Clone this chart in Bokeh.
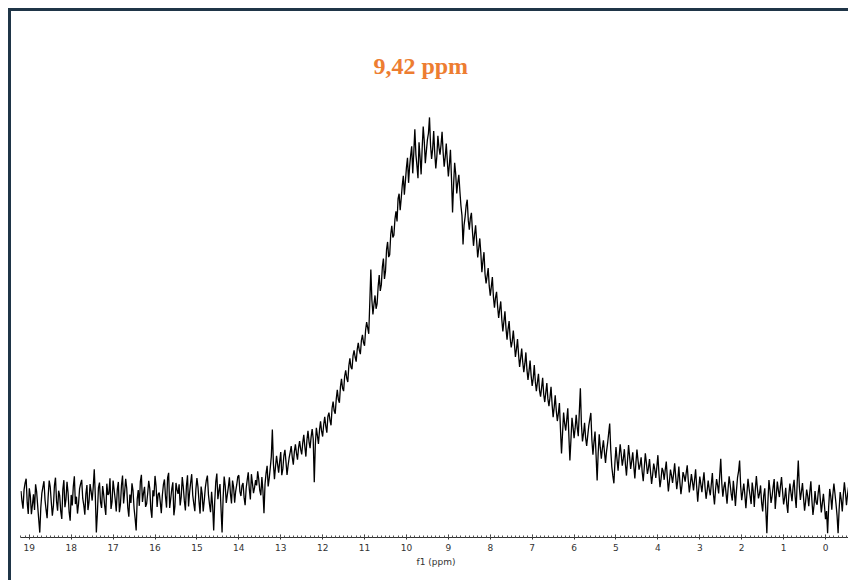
import numpy as np
from bokeh.plotting import figure
from bokeh.models import Range1d, SingleIntervalTicker, Label
from bokeh.embed import file_html
from bokeh.resources import INLINE

# 1H spectrum, intensity in arbitrary units, one point every 0.025 ppm.
# Each band holds the 40 points of one ppm, from its start value downward.
ppm_step = 0.025

band_19_2 = [1.8, -1.0, -3.2, 2.2, 4.1, 5.3, -1.5, -4.7, 2.6, 0.4, -4.8, -2.1, 0.9, -3.6, 3.7, 1.6, -2.4, -6.3, -10.0, -2.8,
             1.2, 3.0, 4.6, -0.7, -3.5, -5.9, 0.3, 4.8, 2.9, -1.4, -5.2, -2.5, 3.4, 5.6, -1.1, -3.8, 1.9, 0.5, -3.9, -6.1]
band_18_2 = [2.2, 4.9, -2.8, -0.6, 4.4, 1.3, -4.1, -6.6, 0.7, -2.3, 3.1, 6.0, -1.9, 0.2, -4.6, -1.8, 2.5, 3.9, 5.0, -0.3,
             -2.2, -4.9, 1.0, 3.5, -3.6, -1.2, 3.8, 1.7, -0.9, 2.8, 8.0, 0.6, -10.0, -4.4, 2.7, 4.2, -1.4, -3.0, 3.2, 0.8]
band_17_2 = [-2.5, -5.0, 3.9, 0.7, 1.1, 5.4, -3.3, -1.2, 4.8, 2.1, -0.6, -4.0, 2.3, 4.4, -4.2, -2.0, 3.5, 6.2, -1.7, 1.5,
             5.3, 2.6, -2.9, -5.5, 0.8, -1.6, 4.0, 1.9, -3.1, -6.0, -9.4, -0.5, 2.1, -2.4, 4.5, 6.4, -1.3, 1.2, 3.0, -2.7]
band_16_2 = [-1.8, 1.1, 4.7, 2.5, -3.4, -5.8, 2.0, 0.3, 6.1, 3.2, -2.7, 0.9, 1.4, -1.3, -4.5, 0.6, 3.6, 5.1, 0.2, -2.9,
             5.6, 7.0, -3.0, -0.4, 2.4, 4.3, -5.1, -2.6, 4.1, 2.2, 1.0, 3.7, -2.3, 0.1, 5.8, 2.9, -1.0, -3.7, 3.3, 6.3]
band_15_2 = [-2.6, 1.4, 4.2, 6.6, 0.6, -1.8, -3.9, 2.3, 5.5, 3.0, -1.2, -4.6, 3.1, 1.0, -4.0, -0.9, 2.7, 4.9, 6.2, 0.8,
             -2.0, -4.2, 1.6, -2.4, -9.4, -1.1, 4.4, 6.8, -0.5, 1.9, 3.8, -3.2, -10.0, -0.2, 5.9, 3.3, -1.6, 0.7, 2.9, 5.7]
band_14_2 = [1.0, -1.7, 4.8, 2.9, -1.5, 1.8, 3.6, 5.9, 6.3, 1.7, 0.4, 3.3, 4.1, 0.0, -2.2, 2.6, 5.0, 7.1, 2.4, -0.6,
             6.6, 4.0, 1.2, 2.8, 4.9, 3.4, 7.4, 5.1, 2.0, 0.6, 5.8, 1.9, -4.5, 3.8, 6.9, 9.0, 3.1, 5.4, 8.4, 11.6]
band_13_2 = [19.3, 9.6, 5.2, 8.7, 11.8, 9.4, 7.0, 10.2, 12.9, 6.3, 8.1, 11.9, 13.5, 10.1, 6.4, 9.0, 11.2, 12.8, 14.6, 11.4,
             9.3, 13.0, 15.1, 12.6, 10.7, 14.1, 16.0, 13.7, 12.2, 15.5, 17.8, 14.4, 11.6, 16.3, 18.9, 15.8, 14.0, 17.2, 19.4, 16.6]
band_12_2 = [4.3, 14.9, 19.8, 17.6, 15.2, 19.1, 21.6, 18.8, 17.3, 20.7, 22.9, 20.2, 18.4, 23.0, 24.1, 21.9, 20.5, 25.4, 27.2, 24.6,
             23.8, 28.0, 30.6, 27.8, 26.9, 31.5, 33.7, 31.0, 30.2, 34.4, 36.1, 33.9, 32.8, 37.3, 39.5, 37.0, 36.4, 40.2, 41.8, 39.9]
band_11_2 = [38.6, 42.0, 43.9, 41.8, 40.7, 44.6, 46.2, 44.0, 43.1, 47.5, 49.8, 48.2, 46.5, 55.3, 64.8, 56.1, 52.0, 54.9, 57.4, 53.6,
             55.1, 60.0, 63.2, 58.7, 60.4, 65.5, 67.9, 62.1, 64.3, 70.4, 72.6, 68.3, 69.0, 74.8, 77.2, 73.9, 74.5, 79.0, 81.3, 78.4]
band_10_2 = [84.9, 86.3, 81.6, 85.0, 88.7, 91.4, 86.0, 89.9, 93.8, 96.5, 89.4, 94.0, 97.2, 99.8, 92.1, 98.0, 104.6, 97.5, 94.3, 90.7,
             100.9, 96.6, 91.8, 99.3, 105.4, 101.2, 95.0, 98.4, 101.7, 103.5, 108.0, 100.1, 96.2, 99.0, 104.1, 97.8, 93.5, 96.9, 102.8, 99.5]
band_9_2 = [97.4, 100.2, 103.9, 98.1, 94.0, 96.7, 100.6, 95.5, 91.2, 94.6, 98.8, 90.4, 81.0, 88.9, 95.1, 92.0, 86.4, 89.5, 91.7, 87.0,
            82.9, 80.1, 71.9, 77.4, 79.8, 83.0, 84.6, 78.8, 76.1, 79.4, 80.9, 75.6, 71.5, 74.7, 77.3, 72.9, 68.2, 70.8, 73.6, 69.4]
band_8_2 = [64.0, 67.2, 69.7, 63.5, 60.8, 62.9, 65.2, 60.1, 57.3, 59.9, 62.6, 57.0, 53.9, 56.8, 58.4, 54.3, 51.0, 53.5, 55.7, 50.6,
            47.2, 50.0, 52.9, 48.1, 44.8, 47.9, 50.1, 45.3, 42.6, 44.4, 47.4, 43.8, 39.9, 42.1, 45.0, 40.6, 37.1, 39.5, 42.3, 38.4]
band_7_2 = [35.6, 38.0, 41.2, 36.3, 33.4, 35.9, 38.9, 34.6, 31.7, 33.8, 37.6, 32.9, 30.2, 32.7, 35.1, 30.4, 28.6, 31.2, 34.0, 29.3,
            27.1, 29.8, 32.5, 28.0, 25.9, 28.4, 31.4, 26.5, 22.8, 25.6, 29.0, 24.7, 21.7, 23.9, 26.8, 19.4, 12.5, 18.3, 24.1, 21.0]
band_6_2 = [19.0, 22.1, 25.3, 17.7, 10.5, 16.4, 22.6, 20.0, 16.8, 19.6, 23.5, 19.9, 17.4, 24.3, 31.0, 20.8, 15.9, 18.1, 21.2, 17.0,
            14.6, 17.5, 20.3, 22.2, 24.0, 16.3, 12.1, 15.8, 18.7, 11.9, 4.8, 12.6, 17.9, 14.2, 11.0, 13.9, 16.2, 12.8, 9.8, 13.1]
band_5_2 = [15.4, 18.2, 21.0, 13.5, 8.7, 6.1, 4.0, 9.9, 14.3, 10.8, 7.6, 11.7, 15.1, 12.3, 9.0, 11.0, 13.7, 9.4, 6.2, 10.5,
            14.9, 11.6, 8.1, 10.3, 12.8, 8.9, 5.4, 9.7, 13.6, 10.6, 7.9, 9.2, 11.4, 7.3, 4.6, 8.5, 12.5, 9.9, 6.7, 8.3]
band_4_2 = [10.9, 7.1, 3.8, 6.4, 9.6, 8.0, 5.5, 8.7, 12.0, 6.8, 2.9, 5.2, 8.4, 7.5, 5.0, 7.8, 10.2, 5.6, 1.7, 4.6,
            7.9, 6.2, 4.1, 6.7, 9.7, 5.9, 2.3, 4.9, 8.8, 4.3, 0.9, 3.5, 7.2, 6.1, 4.5, 6.9, 9.1, 4.8, 1.4, 3.9]
band_3_2 = [6.6, 4.4, 2.0, 5.0, 8.0, 3.1, -1.2, 2.5, 5.9, 3.7, 1.5, 4.6, 7.1, 2.8, -0.4, 1.9, 4.8, 2.3, 0.6, 3.8,
            6.9, 1.0, -2.0, 2.1, 5.2, 3.4, 1.1, 6.3, 11.0, 4.0, 0.2, 2.9, 4.4, 1.3, -1.8, 2.4, 6.0, 3.6, 0.9, -0.9]
band_2_2 = [4.7, 1.5, -2.4, 2.0, 5.6, 7.4, 10.5, 3.2, -0.8, 1.6, 3.9, 0.7, -3.1, 1.2, 5.3, 2.6, 0.4, -1.9, 4.2, 1.8,
            -2.7, 2.3, 6.1, 2.4, -0.3, 1.1, 3.4, -1.5, -4.0, 0.5, 2.6, -3.6, -10.2, -1.3, 4.9, 2.1, -1.6, 0.3, 3.0, 5.2]
band_1_2 = [-3.3, 0.6, 4.5, 2.0, 0.1, 3.2, 5.8, 1.7, -2.0, -0.1, 2.7, -1.9, -4.4, 0.8, 3.9, 1.3, -1.1, 2.9, 5.0, 0.2,
            -3.0, 4.4, 10.5, 3.1, -0.7, 1.6, 4.1, 0.0, -3.8, -1.2, 2.2, 0.4, -2.5, 1.5, 4.6, -0.8, -5.0, -2.3, 1.8, -1.4]
band_0_2 = [-2.1, 1.2, 3.6, -0.5, -4.3, -1.6, 1.0, -2.4, -6.2, -3.9, -10.2, -2.7, 2.4, 0.3, -3.5, 0.9, 3.9, 1.1, -1.8, -5.1,
            -10.2, -3.3, 1.5, -0.6, -4.0, 0.7, 4.3, 1.4, -2.2, 0.8, 3.0, 0.1, -1.0]

bands = [
    (19.2, band_19_2), (18.2, band_18_2), (17.2, band_17_2), (16.2, band_16_2), (15.2, band_15_2),
    (14.2, band_14_2), (13.2, band_13_2), (12.2, band_12_2), (11.2, band_11_2), (10.2, band_10_2),
    (9.2, band_9_2), (8.2, band_8_2), (7.2, band_7_2), (6.2, band_6_2), (5.2, band_5_2),
    (4.2, band_4_2), (3.2, band_3_2), (2.2, band_2_2), (1.2, band_1_2), (0.2, band_0_2),
]

shift = np.concatenate([start - ppm_step * np.arange(len(vals)) for start, vals in bands])
intensity = np.concatenate([np.asarray(vals, dtype=float) for _, vals in bands])

peak_ppm = 9.42
peak_label = "9,42 ppm"

p = figure(
    width=840, height=572,
    x_range=Range1d(19.21, -0.62),
    y_range=Range1d(-11.4, 138.1),
    output_backend="svg", toolbar_location=None,
    min_border_left=9, min_border_right=0, min_border_top=0, min_border_bottom=46,
)
p.styles = {
    "margin-left": "8px",
    "margin-top": "8px",
    "border-left": "3px solid #1f3547",
    "border-top": "3px solid #1f3547",
}
p.outline_line_color = None
p.background_fill_color = "white"
p.border_fill_color = "white"
p.xgrid.visible = False
p.ygrid.visible = False
p.yaxis.visible = False

p.line(shift, intensity, line_color="black", line_width=1.3)

ax = p.xaxis[0]
ax.ticker = SingleIntervalTicker(interval=1, num_minor_ticks=10)
ax.axis_line_color = "#333333"
ax.major_tick_line_color = "#333333"
ax.minor_tick_line_color = "#555555"
ax.major_tick_in = 3
ax.major_tick_out = 2
ax.minor_tick_in = 2
ax.minor_tick_out = 0
ax.major_label_text_font = "DejaVu Sans"
ax.major_label_text_font_size = "9px"
ax.major_label_text_color = "#333333"
ax.major_label_standoff = 4
ax.axis_label = "f1 (ppm)"
ax.axis_label_text_font = "DejaVu Sans"
ax.axis_label_text_font_size = "9px"
ax.axis_label_text_font_style = "normal"
ax.axis_label_text_color = "#333333"
ax.axis_label_standoff = 3

p.add_layout(Label(
    x=peak_ppm, y=122.5, x_offset=-10, text=peak_label,
    text_font="Liberation Serif", text_font_style="bold", text_font_size="24px",
    text_color="#ED7D31", text_align="center", text_baseline="alphabetic",
))

open("out.html", "w").write(file_html(p, INLINE))
